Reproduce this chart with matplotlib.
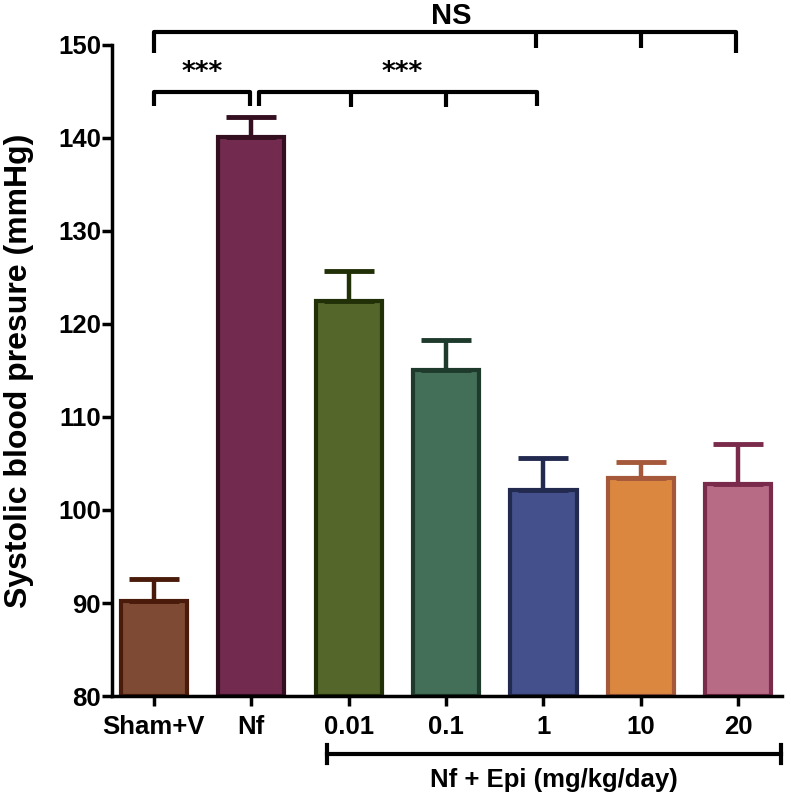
import matplotlib
matplotlib.use("Agg")
import matplotlib.pyplot as plt
from matplotlib import font_manager

categories = ["Sham+V", "Nf", "0.01", "0.1", "1", "10", "20"]
means = [90.2, 140.1, 122.5, 115.0, 102.2, 103.4, 102.8]
sems = [2.4, 2.2, 3.2, 3.3, 3.4, 1.8, 4.3]
fills = ["#7E4A33", "#722B4E", "#546629", "#436E57", "#43508B", "#DB873F", "#B76B85"]
edges = ["#4A1A0A", "#330F20", "#223008", "#1E3A2C", "#222A50", "#A5583A", "#7A2A4A"]
y_ticks = [80, 90, 100, 110, 120, 130, 140, 150]

names = {f.name for f in font_manager.fontManager.ttflist}
fam = ["Liberation Sans Narrow", "Liberation Sans", "DejaVu Sans"] if "Liberation Sans Narrow" in names else ["Liberation Sans", "DejaVu Sans"]
plt.rcParams["font.family"] = fam
plt.rcParams["font.weight"] = "bold"

fig = plt.figure(figsize=(7.91, 7.96), dpi=100)
ax = fig.add_axes([0.1416, 0.1256, 0.847, 0.818])

x = list(range(len(categories)))
for i in x:
    ax.bar(i, means[i] - 80, bottom=80, width=0.68, color=fills[i], edgecolor=edges[i],
           linewidth=3, zorder=2)
    ax.errorbar(i, means[i], yerr=[[0], [sems[i]]], fmt="none", ecolor=edges[i],
                elinewidth=3.2, capsize=18, capthick=3.5, zorder=3)

ax.set_xlim(-0.43, 6.45)
ax.set_ylim(80, 150)
ax.set_yticks(y_ticks)
ax.set_xticks(x)
ax.set_xticklabels(categories)
for s in ["top", "right"]:
    ax.spines[s].set_visible(False)
for s in ["left", "bottom"]:
    ax.spines[s].set_linewidth(2.5)
ax.tick_params(axis="both", which="major", length=7, width=2.5, labelsize=18.5, direction="out")
ax.tick_params(axis="x", pad=7)
ax.tick_params(axis="y", pad=1)
ax.set_ylabel("Systolic blood presure (mmHg)", fontsize=23, fontweight="bold",
              family=["Liberation Sans", "DejaVu Sans"], labelpad=17)

lw = 3
kw = dict(color="black", lw=lw, clip_on=False, solid_capstyle="butt", zorder=4)
# NS bracket
top = 151.4
ax.plot([0, 0, 5.98, 5.98], [149.1, top, top, 149.1], **kw)
ax.plot([3.92, 3.92], [top, 149.7], **kw)
ax.plot([5.0, 5.0], [top, 149.7], **kw)
ax.text(3.05, 152.2, "NS", ha="center", va="baseline", fontsize=21, fontweight="bold",
        family=["Liberation Sans", "DejaVu Sans"])
# lower brackets
b = 144.9
ax.plot([0, 0, 0.99, 0.99], [143.4, b, b, 143.4], **kw)
ax.plot([1.08, 1.08, 3.93, 3.93], [143.4, b, b, 143.4], **kw)
ax.plot([2.02, 2.02], [b, 143.3], **kw)
ax.plot([3.0, 3.0], [b, 143.3], **kw)
ax.text(0.5, 145.6, "***", ha="center", va="bottom", fontsize=19, fontweight="bold",
        family=["DejaVu Sans"])
ax.text(2.55, 145.6, "***", ha="center", va="bottom", fontsize=19, fontweight="bold",
        family=["DejaVu Sans"])

# bottom group bracket (figure coordinates)
x0, x1 = 327 / 791, 781 / 791
yb = 1 - 754 / 796
fig.add_artist(plt.Line2D([x0, x1], [yb, yb], color="black", lw=3, transform=fig.transFigure))
for xx in (x0, x1):
    fig.add_artist(plt.Line2D([xx, xx], [yb - 0.011, yb + 0.011], color="black", lw=3,
                              transform=fig.transFigure))
fig.text((x0 + x1) / 2, 1 - 780 / 796, "Nf + Epi (mg/kg/day)", ha="center", va="center",
         fontsize=18.5, fontweight="bold")

fig.savefig("out.png", dpi=100)
